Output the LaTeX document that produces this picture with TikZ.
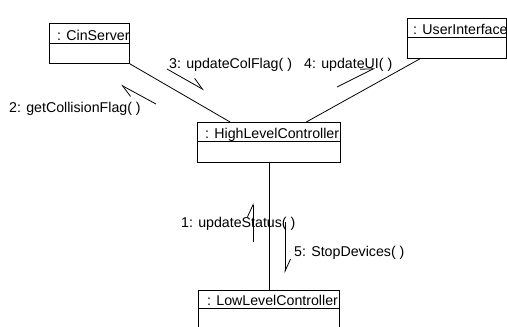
\documentclass[tikz,border=0pt]{standalone}
\usepackage{fontspec}
\setmainfont{Liberation Sans}
\usetikzlibrary{arrows.meta,calc}
\begin{document}
\begin{tikzpicture}[x=1pt,y=-1pt,
  objbox/.style={draw, line width=0.8pt, fill=white, rectangle, inner sep=0pt, anchor=north west},
  objname/.style={anchor=base west, inner sep=0pt, font=\fontsize{14.2}{17}\selectfont},
  link/.style={line width=0.8pt},
  msg/.style={line width=0.8pt, -{Straight Barb[harpoon,length=12pt,width=11pt]}},
  msglabel/.style={anchor=base west, inner sep=0pt, font=\fontsize{14.2}{17}\selectfont}]
\clip (0,0) rectangle (507,327);
\useasboundingbox (0,0) rectangle (507,327);

% object boxes
\node[objbox, minimum width=80pt,  minimum height=40pt] (cin) at (49,23)  {};
\node[objbox, minimum width=99pt,  minimum height=40pt] (ui)  at (407,18) {};
\node[objbox, minimum width=143pt, minimum height=40pt] (hlc) at (197,122) {};
\node[objbox, minimum width=141pt, minimum height=60pt] (llc) at (198,290) {};

% name compartments
\draw[link] ($(cin.north west)+(0,20)$) -- ($(cin.north east)+(0,20)$);
\draw[link] ($(ui.north west)+(0,19)$)  -- ($(ui.north east)+(0,19)$);
\draw[link] ($(hlc.north west)+(0,19)$) -- ($(hlc.north east)+(0,19)$);
\draw[link] ($(llc.north west)+(0,18)$) -- ($(llc.north east)+(0,18)$);

\node[objname] (cinname) at ($(cin.north west)+(8,17)$) {: CinServer};
\node[objname] (uiname)  at ($(ui.north west)+(6,16)$)  {: UserInterface};
\node[objname] (hlcname) at ($(hlc.north west)+(8,16)$) {: HighLevelController};
\node[objname] (llcname) at ($(llc.north west)+(9,15)$) {: LowLevelController};

% links between objects
\draw[link] (cin.south east) -- ($(hlc.north west)!0.23!(hlc.north east)$);
\draw[link] ($(ui.south west)!0.13!(ui.south east)$) -- ($(hlc.north west)!0.76!(hlc.north east)$);
\draw[link] (hlc.south) -- (llc.north);

% messages
\coordinate (m1s) at (253,242); \coordinate (m1e) at (253,203);
\coordinate (m2s) at (156,104); \coordinate (m2e) at (121,85);
\coordinate (m3s) at (167,69);  \coordinate (m3e) at (204,90);
\coordinate (m4s) at (337,87);  \coordinate (m4e) at (375,68);
\coordinate (m5s) at (285,222); \coordinate (m5e) at (285,273);
\draw[msg] (m1s) -- (m1e);
\draw[msg] (m2s) -- (m2e);
\draw[msg] (m3s) -- (m3e);
\draw[msg] (m4s) -- (m4e);
\draw[msg] (m5s) -- (m5e);

\node[msglabel] (l1) at (181,227) {1: updateStatus( )};
\node[msglabel] (l2) at (9,112)   {2: getCollisionFlag( )};
\node[msglabel] (l3) at (169,68)  {3: updateColFlag( )};
\node[msglabel] (l4) at (304,68)  {4: updateUI( )};
\node[msglabel] (l5) at (294,256) {5: StopDevices( )};
\end{tikzpicture}
\end{document}
